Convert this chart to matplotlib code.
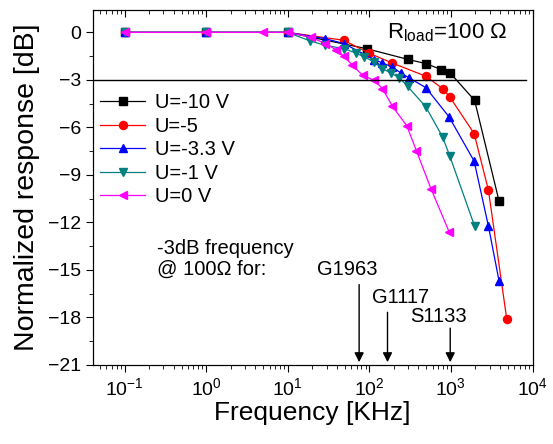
import matplotlib.pyplot as plt

# data (frequency in KHz, response in dB)
f_m10 = [0.1, 1, 10, 93, 294, 493, 765, 970, 1950, 3890]
db_m10 = [0, 0, 0, -1.03, -1.70, -1.97, -2.35, -2.54, -4.29, -10.66]

f_m5 = [0.1, 1, 10, 49, 98, 192, 493, 790, 970, 1925, 2880, 4830]
db_m5 = [0, 0, 0, -0.5, -1.3, -1.94, -2.77, -3.55, -4.08, -6.39, -9.96, -18.1]

f_m33 = [0.1, 1, 10, 29, 49, 115, 145, 192, 243, 305, 493, 950, 1925, 2880, 3890]
db_m33 = [0, 0, 0, -0.4, -0.71, -1.72, -1.93, -2.19, -2.56, -2.86, -3.49, -5.34, -8.13, -12.23, -15.7]

f_m1 = [0.1, 1, 10, 19, 29, 49, 68, 87, 115, 145, 183, 233, 294, 493, 790, 970, 1950]
db_m1 = [0, 0, 0, -0.55, -0.82, -1.03, -1.3, -1.55, -1.87, -2.29, -2.56, -2.86, -3.4, -4.71, -6.6, -7.82, -12.23]

f_0 = [0.1, 1, 5, 10, 19.3, 28.9, 39, 49, 62, 83, 115, 145, 192, 288, 378, 568, 950]
db_0 = [0, 0, 0, 0, -0.3, -0.71, -1.09, -1.51, -2.08, -2.71, -3.03, -3.55, -4.67, -5.9, -7.48, -9.86, -12.59]

labels = ["U=-10 V", "U=-5", "U=-3.3 V", "U=-1 V", "U=0 V"]
colors = ["black", "#ff0000", "#0000ff", "#008080", "#ff00ff"]
markers = ["s", "o", "^", "v", "<"]

# -3dB frequencies of the devices
dev_names = ["G1963", "G1117", "S1133"]
dev_freq = [75, 167, 980]
dev_top = [-15.75, -17.5, -18.5]
dev_text_x = [54, 244, 697]
dev_text_y = [-15.0, -16.77, -17.95]

plt.rcParams['font.family'] = ['Liberation Sans', 'DejaVu Sans']
plt.rcParams['mathtext.fontset'] = 'custom'
plt.rcParams['mathtext.rm'] = 'Liberation Sans'
plt.rcParams['mathtext.it'] = 'Liberation Sans'
plt.rcParams['mathtext.bf'] = 'Liberation Sans'

fig = plt.figure(figsize=(5.53, 4.44), dpi=100)
ax = fig.add_axes([0.168, 0.178, 0.795, 0.799])

series = [(f_m10, db_m10), (f_m5, db_m5), (f_m33, db_m33), (f_m1, db_m1), (f_0, db_0)]
for (f, db), lab, c, m in zip(series, labels, colors, markers):
    ax.plot(f, db, color=c, marker=m, ms=5.8, lw=0.9, label=lab)

ax.set_xscale("log")
ax.set_xlim(0.041, 1e4)
ax.set_ylim(-21, 1.4)
ax.set_yticks(range(-21, 1, 3))
ax.set_yticks([-19.5, -16.5, -13.5, -10.5, -7.5, -4.5, -1.5], minor=True)
ax.axhline(-3, xmax=0.986, color="black", lw=1)

ax.tick_params(axis="both", which="both", direction="out", labelsize=14)
ax.tick_params(which="major", length=5)
ax.tick_params(which="minor", length=3)

top = ax.twiny()
top.set_xscale("log")
top.set_xlim(ax.get_xlim())
top.tick_params(axis="x", which="both", direction="in", labeltop=False)
top.tick_params(which="major", length=5)
top.tick_params(which="minor", length=3)

ax.set_xlabel("Frequency [KHz]", fontsize=19, labelpad=2)
ax.set_ylabel("Normalized response [dB]", fontsize=20.5, labelpad=6)

ax.legend(loc="upper left", bbox_to_anchor=(-0.015, 0.805), frameon=False,
          fontsize=14.5, handlelength=2.2, labelspacing=0.22, borderaxespad=0.3,
          handletextpad=0.5)

ax.text(165, -0.05, r"R$_{\mathrm{load}}$=100 Ω", fontsize=16, va="center")
ax.text(0.25, -14.3, "-3dB frequency\n@ 100\u03a9 for:", fontsize=14.5, va="center",
        linespacing=1.15)

for name, fx, yt, tx, ty in zip(dev_names, dev_freq, dev_top, dev_text_x, dev_text_y):
    ax.annotate("", xy=(fx, -21), xytext=(fx, yt),
                arrowprops=dict(arrowstyle="-|>", color="black", lw=1, mutation_scale=14))
    ax.text(tx, ty, name, fontsize=14.5, ha="center", va="center")

fig.savefig("out.png", dpi=100)
